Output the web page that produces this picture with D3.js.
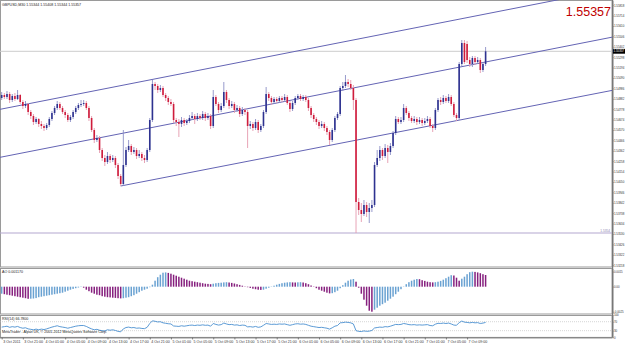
<!DOCTYPE html>
<html lang="en">
<head>
<meta charset="UTF-8">
<title>GBPUSD,M30</title>
<script src="https://d3js.org/d3.v7.min.js"></script>
<style>
  body { margin: 0; background: #fff; }
  text { font-family: "Liberation Sans", Arial, sans-serif; }
</style>
</head>
<body>
<div id="chart"></div>
<script>
// ---- data (GBPUSD M30, 3 Oct 17:00 .. 7 Oct 12:30) ----
const opens = [1.5489,1.5492,1.5490,1.5493,1.5487,1.5491,1.5488,1.5492,1.5485,1.5481,
  1.5483,1.5475,1.5471,1.5465,1.5468,1.5463,1.5461,1.5459,1.5462,1.5468,
  1.5474,1.5479,1.5483,1.5479,1.5475,1.5472,1.5467,1.5470,1.5475,1.5479,
  1.5482,1.5483,1.5484,1.5479,1.5469,1.5457,1.5447,1.5449,1.5437,1.5429,
  1.5425,1.5431,1.5427,1.5429,1.5422,1.5411,1.5403,1.5422,1.5437,1.5441,
  1.5435,1.5437,1.5431,1.5433,1.5429,1.5427,1.5437,1.5467,1.5503,1.5501,
  1.5497,1.5499,1.5492,1.5489,1.5485,1.5483,1.5467,1.5465,1.5463,1.5467,
  1.5464,1.5466,1.5469,1.5471,1.5468,1.5471,1.5469,1.5473,1.5469,1.5471,
  1.5461,1.5490,1.5483,1.5477,1.5481,1.5495,1.5487,1.5481,1.5483,1.5477,
  1.5479,1.5473,1.5477,1.5475,1.5461,1.5463,1.5459,1.5465,1.5457,1.5461,
  1.5475,1.5493,1.5489,1.5485,1.5488,1.5486,1.5489,1.5487,1.5490,1.5484,
  1.5478,1.5484,1.5489,1.5491,1.5488,1.5490,1.5487,1.5479,1.5472,1.5468,
  1.5465,1.5461,1.5463,1.5459,1.5455,1.5447,1.5457,1.5469,1.5473,1.5499,
  1.5501,1.5505,1.5503,1.5499,1.5487,1.5385,1.5377,1.5373,1.5382,1.5375,
  1.5379,1.5382,1.5422,1.5429,1.5437,1.5431,1.5439,1.5435,1.5441,1.5454,
  1.5468,1.5465,1.5467,1.5479,1.5474,1.5469,1.5466,1.5468,1.5465,1.5467,
  1.5464,1.5466,1.5468,1.5461,1.5459,1.5477,1.5487,1.5485,1.5489,1.5486,
  1.5490,1.5483,1.5472,1.5469,1.5523,1.5544,1.5543,1.5527,1.5523,1.5529,
  1.5525,1.5527,1.5517,1.5523];
const highs = [1.5495,1.5494,1.5496,1.5495,1.5493,1.5494,1.5497,1.5493,1.5487,1.5486,
  1.5484,1.5477,1.5473,1.5470,1.5469,1.5466,1.5463,1.5464,1.5470,1.5476,
  1.5481,1.5486,1.5485,1.5481,1.5477,1.5474,1.5472,1.5477,1.5481,1.5484,
  1.5487,1.5487,1.5486,1.5481,1.5471,1.5459,1.5452,1.5451,1.5439,1.5432,
  1.5435,1.5433,1.5432,1.5431,1.5424,1.5413,1.5457,1.5440,1.5447,1.5443,
  1.5440,1.5439,1.5437,1.5435,1.5432,1.5439,1.5469,1.5507,1.5505,1.5503,
  1.5502,1.5501,1.5494,1.5491,1.5488,1.5485,1.5469,1.5468,1.5470,1.5469,
  1.5468,1.5472,1.5475,1.5473,1.5474,1.5473,1.5476,1.5475,1.5474,1.5473,
  1.5497,1.5492,1.5485,1.5484,1.5505,1.5497,1.5489,1.5486,1.5485,1.5482,
  1.5481,1.5480,1.5479,1.5477,1.5466,1.5465,1.5468,1.5467,1.5463,1.5477,
  1.5500,1.5495,1.5491,1.5490,1.5490,1.5491,1.5491,1.5493,1.5492,1.5486,
  1.5486,1.5491,1.5493,1.5493,1.5492,1.5492,1.5489,1.5481,1.5474,1.5470,
  1.5467,1.5466,1.5465,1.5461,1.5457,1.5459,1.5471,1.5475,1.5501,1.5505,
  1.5512,1.5508,1.5507,1.5502,1.5489,1.5389,1.5384,1.5387,1.5385,1.5384,
  1.5387,1.5425,1.5437,1.5441,1.5439,1.5443,1.5442,1.5444,1.5456,1.5471,
  1.5470,1.5470,1.5483,1.5481,1.5476,1.5471,1.5471,1.5470,1.5470,1.5469,
  1.5469,1.5471,1.5470,1.5463,1.5479,1.5489,1.5490,1.5492,1.5491,1.5493,
  1.5492,1.5485,1.5474,1.5525,1.5547,1.5547,1.5546,1.5530,1.5531,1.5531,
  1.5530,1.5529,1.5525,1.5540];
const lows = [1.5487,1.5488,1.5488,1.5484,1.5485,1.5486,1.5487,1.5483,1.5478,1.5479,
  1.5472,1.5468,1.5462,1.5463,1.5460,1.5458,1.5456,1.5457,1.5460,1.5466,
  1.5472,1.5477,1.5477,1.5473,1.5469,1.5465,1.5465,1.5468,1.5473,1.5477,
  1.5480,1.5481,1.5477,1.5466,1.5455,1.5444,1.5445,1.5434,1.5426,1.5421,
  1.5423,1.5424,1.5425,1.5419,1.5408,1.5401,1.5401,1.5420,1.5435,1.5432,
  1.5433,1.5428,1.5429,1.5426,1.5424,1.5425,1.5435,1.5465,1.5497,1.5494,
  1.5495,1.5490,1.5486,1.5482,1.5481,1.5464,1.5461,1.5450,1.5460,1.5461,
  1.5462,1.5464,1.5467,1.5463,1.5466,1.5467,1.5467,1.5466,1.5467,1.5458,
  1.5459,1.5481,1.5474,1.5475,1.5479,1.5484,1.5478,1.5479,1.5474,1.5475,
  1.5470,1.5471,1.5472,1.5439,1.5458,1.5456,1.5457,1.5454,1.5455,1.5459,
  1.5473,1.5486,1.5482,1.5483,1.5484,1.5484,1.5485,1.5485,1.5482,1.5475,
  1.5476,1.5482,1.5487,1.5486,1.5486,1.5485,1.5476,1.5469,1.5465,1.5462,
  1.5458,1.5459,1.5456,1.5452,1.5442,1.5445,1.5455,1.5467,1.5471,1.5496,
  1.5499,1.5500,1.5497,1.5477,1.5354,1.5372,1.5365,1.5371,1.5370,1.5364,
  1.5375,1.5380,1.5420,1.5426,1.5427,1.5429,1.5424,1.5432,1.5439,1.5452,
  1.5463,1.5463,1.5465,1.5472,1.5466,1.5464,1.5464,1.5462,1.5463,1.5461,
  1.5462,1.5464,1.5459,1.5455,1.5457,1.5475,1.5482,1.5483,1.5484,1.5484,
  1.5481,1.5470,1.5466,1.5467,1.5521,1.5523,1.5524,1.5520,1.5520,1.5522,
  1.5523,1.5514,1.5515,1.5521];
const closes = [1.5492,1.5490,1.5493,1.5487,1.5491,1.5488,1.5492,1.5485,1.5481,1.5483,
  1.5475,1.5471,1.5465,1.5468,1.5463,1.5461,1.5459,1.5462,1.5468,1.5474,
  1.5479,1.5483,1.5479,1.5475,1.5472,1.5467,1.5470,1.5475,1.5479,1.5482,
  1.5483,1.5484,1.5479,1.5469,1.5457,1.5447,1.5449,1.5437,1.5429,1.5425,
  1.5431,1.5427,1.5429,1.5422,1.5411,1.5403,1.5422,1.5437,1.5441,1.5435,
  1.5437,1.5431,1.5433,1.5429,1.5427,1.5437,1.5467,1.5503,1.5501,1.5497,
  1.5499,1.5492,1.5489,1.5485,1.5483,1.5467,1.5465,1.5463,1.5467,1.5464,
  1.5466,1.5469,1.5471,1.5468,1.5471,1.5469,1.5473,1.5469,1.5471,1.5461,
  1.5490,1.5483,1.5477,1.5481,1.5495,1.5487,1.5481,1.5483,1.5477,1.5479,
  1.5473,1.5477,1.5475,1.5461,1.5463,1.5459,1.5465,1.5457,1.5461,1.5475,
  1.5493,1.5489,1.5485,1.5488,1.5486,1.5489,1.5487,1.5490,1.5484,1.5478,
  1.5484,1.5489,1.5491,1.5488,1.5490,1.5487,1.5479,1.5472,1.5468,1.5465,
  1.5461,1.5463,1.5459,1.5455,1.5447,1.5457,1.5469,1.5473,1.5499,1.5501,
  1.5505,1.5503,1.5499,1.5487,1.5385,1.5377,1.5373,1.5382,1.5375,1.5379,
  1.5382,1.5422,1.5429,1.5437,1.5431,1.5439,1.5435,1.5441,1.5454,1.5468,
  1.5465,1.5467,1.5479,1.5474,1.5469,1.5466,1.5468,1.5465,1.5467,1.5464,
  1.5466,1.5468,1.5461,1.5459,1.5477,1.5487,1.5485,1.5489,1.5486,1.5490,
  1.5483,1.5472,1.5469,1.5523,1.5544,1.5525,1.5527,1.5523,1.5529,1.5525,
  1.5527,1.5517,1.5523,1.55357];

// Awesome Oscillator histogram, one value per bar
const aoValues = [-0.00070,-0.00075,-0.00080,-0.00085,-0.00090,-0.00095,-0.00100,-0.00105,-0.00110,-0.00115,
  -0.00121,-0.00120,-0.00118,-0.00114,-0.00105,-0.00100,-0.00095,-0.00090,-0.00085,-0.00080,
  -0.00075,-0.00070,-0.00065,-0.00060,-0.00050,-0.00040,-0.00030,-0.00022,-0.00015,-0.00008,
  -0.00003,-0.00010,-0.00030,-0.00045,-0.00060,-0.00070,-0.00080,-0.00085,-0.00095,-0.00100,
  -0.00105,-0.00107,-0.00110,-0.00112,-0.00115,-0.00117,-0.00115,-0.00110,-0.00105,-0.00095,
  -0.00085,-0.00070,-0.00055,-0.00040,-0.00030,-0.00020,-0.00005,0.00020,0.00060,0.00095,
  0.00120,0.00140,0.00143,0.00138,0.00130,0.00120,0.00110,0.00100,0.00090,0.00080,
  0.00070,0.00060,0.00055,0.00050,0.00045,0.00040,0.00035,0.00030,0.00028,0.00025,
  0.00030,0.00035,0.00038,0.00040,0.00043,0.00045,0.00042,0.00038,0.00032,0.00025,
  0.00018,0.00010,0.00003,-0.00005,-0.00012,-0.00020,-0.00025,-0.00030,-0.00032,-0.00030,
  -0.00020,-0.00010,0.00001,0.00010,0.00020,0.00028,0.00035,0.00040,0.00043,0.00045,
  0.00043,0.00042,0.00044,0.00045,0.00042,0.00035,0.00025,0.00012,0.00001,-0.00015,
  -0.00030,-0.00040,-0.00050,-0.00060,-0.00067,-0.00065,-0.00055,-0.00040,-0.00015,0.00015,
  0.00040,0.00060,0.00072,0.00077,0.00050,-0.00010,-0.00070,-0.00130,-0.00190,-0.00240,
  -0.00250,-0.00230,-0.00210,-0.00190,-0.00175,-0.00160,-0.00140,-0.00120,-0.00100,-0.00075,
  -0.00050,-0.00025,0.00003,0.00025,0.00045,0.00060,0.00070,0.00077,0.00075,0.00065,
  0.00058,0.00050,0.00045,0.00043,0.00045,0.00050,0.00058,0.00070,0.00085,0.00100,
  0.00115,0.00112,0.00090,0.00060,0.00080,0.00100,0.00125,0.00145,0.00150,0.00148,
  0.00143,0.00135,0.00125,0.00117];

// RSI(14), one value per bar
const rsiValues = [46,48,50,45,48,46,49,44,41,43,
  38,36,34,37,34,37,35,38,42,46,
  49,52,48,46,44,41,44,47,50,52,
  53,53,49,43,38,34,36,32,30,29,
  34,32,34,31,27,25,38,44,46,43,
  44,41,42,40,39,45,62,74,72,69,
  70,65,63,61,60,51,50,49,52,50,
  52,54,55,53,55,54,56,54,55,50,
  62,58,55,57,64,60,57,58,55,56,
  53,55,54,47,48,46,49,45,47,54,
  62,60,58,59,58,60,59,60,57,54,
  57,60,61,59,60,58,54,50,48,46,
  44,45,43,41,37,43,50,53,65,66,
  68,67,65,60,30,27,26,29,27,28,
  31,42,44,46,45,48,47,50,54,58,
  57,58,62,60,57,56,57,55,56,55,
  56,57,53,52,59,63,62,64,62,64,
  60,55,54,66,73,68,67,65,67,65,
  66,62,64,66.78];

// time axis: one label every 8 bars (4 hours)
const timeLabels = ["3 Oct 2011","3 Oct 21:00","4 Oct 01:00","4 Oct 05:00","4 Oct 09:00",
  "4 Oct 13:00","4 Oct 17:00","4 Oct 21:00","5 Oct 01:00","5 Oct 05:00","5 Oct 09:00",
  "5 Oct 13:00","5 Oct 17:00","5 Oct 21:00","6 Oct 01:00","6 Oct 05:00","6 Oct 09:00",
  "6 Oct 13:00","6 Oct 17:00","6 Oct 21:00","7 Oct 01:00","7 Oct 05:00","7 Oct 09:00"];
const timeLabelBars = [0,8,16,24,32,40,48,56,64,72,80,88,96,104,112,120,128,136,144,152,160,168,176];

const priceTicks = [1.55818,1.55714,1.55610,1.55506,1.55402,1.55298,1.55194,1.55090,1.54986,
  1.54882,1.54778,1.54674,1.54570,1.54466,1.54362,1.54258,1.54154,1.54050,1.53946,1.53842,
  1.53738,1.53634,1.53530,1.53426,1.53322,1.53218];
const aoTicks = [0.0015, 0, -0.0025];
const aoTickLabels = ["0.0015", "0.00", "-0.0025"];
const rsiTicks = [100, 70, 30, 0];
const rsiLevels = [70, 30];

// trend channel, [bar, price] anchors
const channelLines = [
  [[0, 1.5478], [183, 1.5573]],
  [[0, 1.5430], [183, 1.5525]],
  [[45, 1.5401], [183, 1.5472]]
];
const supportLevel = 1.5354;
const bid = 1.55357;
const title = "GBPUSD,M30  1.55344 1.55408 1.55344 1.55357";

[opens, highs, lows, aoValues, rsiValues].forEach((a, k) => {
  if (a.length !== closes.length) throw new Error("length mismatch " + k + ": " + a.length + " vs " + closes.length);
});

// ---- layout ----
const w = 625, h = 343;
const plotRight = 612;
const mainTop = 0, mainBottom = 267;
const aoTop = 268, aoBottom = 314;
const rsiTop = 315, rsiBottom = 337.4;

const svg = d3.select("#chart").append("svg")
  .attr("width", w).attr("height", h)
  .style("display", "block");

const x = d3.scaleLinear().domain([0, closes.length - 1]).range([1.7, 485.6]);
const y = d3.scaleLinear().domain([1.5587, 1.5320]).range([mainTop, mainBottom]);
const yAo = d3.scaleLinear().domain([0.00187, -0.00273]).range([aoTop, aoBottom]);
const yRsi = d3.scaleLinear().domain([0, 100]).range([rsiBottom, rsiTop]);

const defs = svg.append("defs");
function clip(id, y0, y1) {
  defs.append("clipPath").attr("id", id).append("rect")
    .attr("x", 0).attr("y", y0).attr("width", plotRight).attr("height", y1 - y0);
  return "url(#" + id + ")";
}

// panel frames
[[mainTop, mainBottom], [aoTop, aoBottom], [rsiTop, rsiBottom]].forEach(p => {
  svg.append("rect")
    .attr("x", 0.5).attr("y", p[0] + 0.5)
    .attr("width", plotRight - 0.5).attr("height", p[1] - p[0] - 0.5)
    .attr("fill", "none").attr("stroke", "#9a9a9a").attr("stroke-width", 1);
});

// ---- main panel ----
const main = svg.append("g").attr("clip-path", clip("clipMain", mainTop, mainBottom));

// bid line
main.append("line")
  .attr("x1", 0).attr("x2", plotRight)
  .attr("y1", y(bid)).attr("y2", y(bid))
  .attr("stroke", "#cccccc").attr("stroke-width", 1);

// support line at the low
main.append("line")
  .attr("x1", 0).attr("x2", plotRight)
  .attr("y1", y(supportLevel)).attr("y2", y(supportLevel))
  .attr("stroke", "#b4a8d0").attr("stroke-width", 1.2);

// channel lines, extended as rays to the right edge
const xRight = x.invert(plotRight), xLeft = x.invert(0);
channelLines.forEach((ln, k) => {
  const [a, b] = ln;
  const slope = (b[1] - a[1]) / (b[0] - a[0]);
  const start = k < 2 ? xLeft : a[0];
  main.append("line")
    .attr("x1", x(start)).attr("y1", y(a[1] + slope * (start - a[0])))
    .attr("x2", x(xRight)).attr("y2", y(a[1] + slope * (xRight - a[0])))
    .attr("stroke", "#6464b4").attr("stroke-width", 1);
});

// candles
const bars = d3.range(closes.length);
main.selectAll("line.wick").data(bars).enter().append("line")
  .attr("class", "wick")
  .attr("x1", i => x(i)).attr("x2", i => x(i))
  .attr("y1", i => y(highs[i])).attr("y2", i => y(lows[i]))
  .attr("stroke", i => closes[i] >= opens[i] ? "#8c90c6" : "#e49aae")
  .attr("stroke-width", 0.9);

main.selectAll("rect.body").data(bars).enter().append("rect")
  .attr("class", "body")
  .attr("x", i => x(i) - 0.8)
  .attr("width", 1.6)
  .attr("y", i => y(Math.max(opens[i], closes[i])))
  .attr("height", i => Math.max(1, Math.abs(y(opens[i]) - y(closes[i]))))
  .attr("fill", i => closes[i] >= opens[i] ? "#2e3290" : "#cf1c3c");

// big price text
svg.append("text")
  .attr("x", 611).attr("y", 16)
  .attr("text-anchor", "end")
  .attr("font-size", 12.5)
  .attr("fill", "#c00000")
  .text(d3.format(".5f")(bid));

// symbol title
svg.append("text")
  .attr("x", 2).attr("y", 5.5)
  .attr("font-size", 3.6).attr("fill", "#222")
  .text(title);

// small note on the support line
svg.append("text")
  .attr("x", 610).attr("y", y(supportLevel) - 1)
  .attr("text-anchor", "end")
  .attr("font-size", 3.2).attr("fill", "#8a7fb0")
  .text(d3.format(".4f")(supportLevel));

// ---- AO panel ----
const ao = svg.append("g").attr("clip-path", clip("clipAo", aoTop, aoBottom));
ao.selectAll("rect").data(bars).enter().append("rect")
  .attr("x", i => x(i) - 0.75)
  .attr("width", 1.5)
  .attr("y", i => Math.min(yAo(aoValues[i]), yAo(0)))
  .attr("height", i => Math.max(0.3, Math.abs(yAo(aoValues[i]) - yAo(0))))
  .attr("fill", i => (i === 0 || aoValues[i] >= aoValues[i - 1]) ? "#6aa2d2" : "#86207e");

svg.append("text")
  .attr("x", 2).attr("y", aoTop + 5)
  .attr("font-size", 3.6).attr("fill", "#222")
  .text("AO " + d3.format(".6f")(aoValues[aoValues.length - 1]));

// ---- RSI panel ----
const rsi = svg.append("g").attr("clip-path", clip("clipRsi", rsiTop, rsiBottom));
rsiLevels.forEach(lv => {
  rsi.append("line")
    .attr("x1", 0).attr("x2", plotRight)
    .attr("y1", yRsi(lv)).attr("y2", yRsi(lv))
    .attr("stroke", "#b8b8b8").attr("stroke-width", 0.6)
    .attr("stroke-dasharray", "1,1");
});
rsi.append("path")
  .datum(bars)
  .attr("d", d3.line().x(i => x(i)).y(i => yRsi(rsiValues[i])))
  .attr("fill", "none").attr("stroke", "#4a8fd0").attr("stroke-width", 0.9);

svg.append("text")
  .attr("x", 2).attr("y", rsiTop + 4.5)
  .attr("font-size", 3.6).attr("fill", "#222")
  .text("RSI(14) " + d3.format(".4f")(rsiValues[rsiValues.length - 1]));

svg.append("text")
  .attr("x", 2).attr("y", 332.5)
  .attr("font-size", 3.6).attr("fill", "#222")
  .text("MetaTrader - Alpari UK, © 2001-2012 MetaQuotes Software Corp.");

// ---- axes ----
function styleAxis(g, size) {
  g.select(".domain").attr("stroke", "#777");
  g.selectAll(".tick line").attr("stroke", "#777");
  g.selectAll(".tick text").attr("font-size", size).attr("fill", "#333")
    .attr("font-family", "Liberation Sans, Arial, sans-serif");
}

const yAxis = svg.append("g")
  .attr("transform", `translate(${plotRight + 0.5},0)`)
  .call(d3.axisRight(y).tickValues(priceTicks).tickFormat(d3.format(".5f"))
    .tickSize(1).tickPadding(0.4).tickSizeOuter(0));
styleAxis(yAxis, 2.9);

const aoAxis = svg.append("g")
  .attr("transform", `translate(${plotRight + 0.5},0)`)
  .call(d3.axisRight(yAo).tickValues(aoTicks).tickFormat((d, i) => aoTickLabels[i])
    .tickSize(1).tickPadding(0.4).tickSizeOuter(0));
styleAxis(aoAxis, 2.9);

const rsiAxis = svg.append("g")
  .attr("transform", `translate(${plotRight + 0.5},0)`)
  .call(d3.axisRight(yRsi).tickValues(rsiTicks).tickFormat(d3.format("d"))
    .tickSize(1).tickPadding(0.4).tickSizeOuter(0));
styleAxis(rsiAxis, 2.9);

// vertical axis line over the whole height
svg.append("line")
  .attr("x1", plotRight + 0.5).attr("x2", plotRight + 0.5)
  .attr("y1", 0).attr("y2", rsiBottom)
  .attr("stroke", "#777").attr("stroke-width", 1);

// bid marker on the price scale
svg.append("rect")
  .attr("x", plotRight + 1).attr("y", y(bid) - 2.4)
  .attr("width", w - plotRight - 1).attr("height", 4.8)
  .attr("fill", "#000");
svg.append("text")
  .attr("x", plotRight + 1.5).attr("y", y(bid) + 1.1)
  .attr("font-size", 2.9).attr("fill", "#fff")
  .text(d3.format(".5f")(bid));

const xAxis = svg.append("g")
  .attr("transform", `translate(0,${rsiBottom})`)
  .call(d3.axisBottom(x).tickValues(timeLabelBars).tickFormat((d, i) => timeLabels[i])
    .tickSize(2).tickPadding(0.5).tickSizeOuter(0));
styleAxis(xAxis, 3.6);
xAxis.select(".domain").attr("d", `M0,0.5H${plotRight}`);
xAxis.selectAll(".tick text").attr("text-anchor", "start").attr("x", 1).attr("dy", "0.9em");
</script>
</body>
</html>
